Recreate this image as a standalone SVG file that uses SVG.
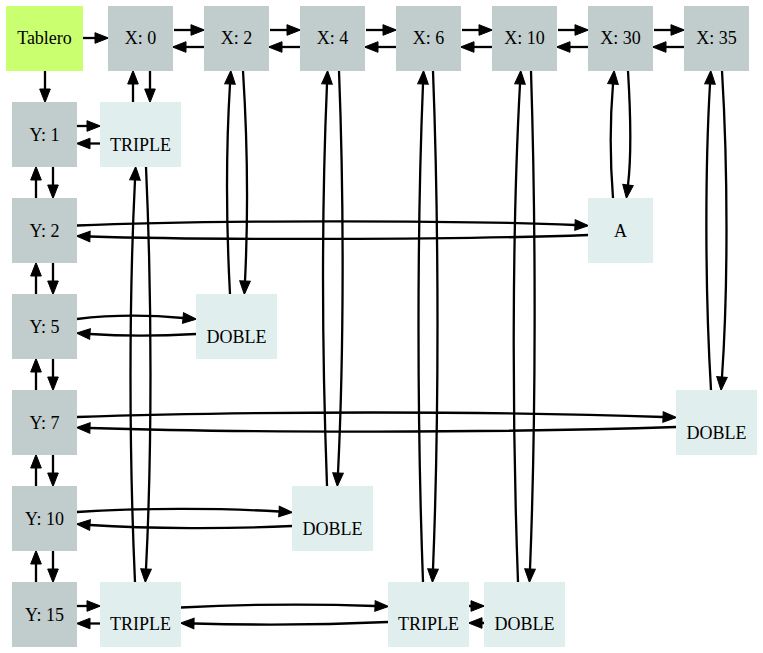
<svg xmlns="http://www.w3.org/2000/svg" width="763" height="653" viewBox="0 0 763 653">
<style>
.g{fill:#c1cdcd}
.l{fill:#e0eeee}
.t{fill:#caff70}
text{font-family:"Liberation Serif","Times New Roman",serif;font-size:18px;fill:#000;text-anchor:middle}
.e path{fill:none;stroke:#000;stroke-width:2.3;marker-end:url(#ah)}
</style>
<defs>
<marker id="ah" markerUnits="userSpaceOnUse" markerWidth="16" markerHeight="12" refX="0" refY="5.3" orient="auto" overflow="visible">
<path d="M0,0 L13.5,5.3 L0,10.6 z" fill="#000" stroke="#000" stroke-width="1"/>
</marker>
</defs>
<rect width="763" height="653" fill="#fff"/>
<g class="e" id="edges">
<path d="M83,38 L95,38"/>
<path d="M45,71 L45,89"/>
<path d="M174,30 L191,30"/>
<path d="M204,47 L186,47"/>
<path d="M270,30 L287,30"/>
<path d="M300,47 L282,47"/>
<path d="M366,30 L383,30"/>
<path d="M396,47 L378,47"/>
<path d="M462,30 L479,30"/>
<path d="M492,47 L474,47"/>
<path d="M558,30 L575,30"/>
<path d="M588,47 L570,47"/>
<path d="M654,30 L671,30"/>
<path d="M684,47 L666,47"/>
<path d="M150,71 L150,89"/>
<path d="M133,102 L133,84"/>
<path d="M77,126 L87,126"/>
<path d="M100,143.5 L90,143.5"/>
<path d="M53,167 L53,185"/>
<path d="M36,198 L36,180"/>
<path d="M53,263 L53,281"/>
<path d="M36,294 L36,276"/>
<path d="M53,359 L53,377"/>
<path d="M36,390 L36,372"/>
<path d="M53,455 L53,473"/>
<path d="M36,486 L36,468"/>
<path d="M53,551 L53,569"/>
<path d="M36,582 L36,564"/>
<path d="M77,606 L87,606"/>
<path d="M100,623.5 L90,623.5"/>
<path d="M135,582 C129,450 129,300 135,180"/>
<path d="M146,167 C152,300 152,450 146,569"/>
<path d="M230,294 C226,220 226,150 230,84"/>
<path d="M243,71 C248,150 248,220 245,281"/>
<path d="M327,486 C322,350 322,200 327,84"/>
<path d="M339,71 C344,200 344,350 338,473"/>
<path d="M423,582 C417,420 417,230 423,84"/>
<path d="M433,71 C439,230 439,420 433,569"/>
<path d="M518,582 C512,420 512,230 520,84"/>
<path d="M531,71 C536,230 536,420 530,569"/>
<path d="M613,198 C610,160 610,120 613,84"/>
<path d="M628,71 C631,120 631,160 628,185"/>
<path d="M711,390 C705,290 705,170 710,84"/>
<path d="M722,71 C728,170 728,290 722,377"/>
<path d="M77,225.5 C200,220 460,220 575,225"/>
<path d="M588,235 C460,240 200,240 90,236.5"/>
<path d="M77,319 C110,315 150,315 183,318"/>
<path d="M196,334 C160,336 120,336 90,334"/>
<path d="M77,417 C250,411 500,411 663,417"/>
<path d="M676,427 C500,433 250,433 90,428"/>
<path d="M77,512 C140,508 220,508 279,511.5"/>
<path d="M292,526 C230,529 150,529 90,525"/>
<path d="M181,607.5 C250,604 320,604 375,606"/>
<path d="M388,622 C320,625 250,625 194,623.5"/>
<path d="M469,606 L471,606"/>
<path d="M484,623 L482,623"/>
</g>
<g id="tablero"><rect class="t" x="6" y="6" width="77" height="65"/><text x="44.5" y="44">Tablero</text></g>
<g id="x0"><rect class="g" x="108" y="6" width="65" height="65"/><text x="140.5" y="44">X: 0</text></g>
<g id="x2"><rect class="g" x="204" y="6" width="65" height="65"/><text x="236.5" y="44">X: 2</text></g>
<g id="x4"><rect class="g" x="300" y="6" width="65" height="65"/><text x="332.5" y="44">X: 4</text></g>
<g id="x6"><rect class="g" x="396" y="6" width="65" height="65"/><text x="428.5" y="44">X: 6</text></g>
<g id="x10"><rect class="g" x="492" y="6" width="65" height="65"/><text x="524.5" y="44">X: 10</text></g>
<g id="x30"><rect class="g" x="588" y="6" width="65" height="65"/><text x="620.5" y="44">X: 30</text></g>
<g id="x35"><rect class="g" x="684" y="6" width="65" height="65"/><text x="716.5" y="44">X: 35</text></g>
<g id="y1"><rect class="g" x="12" y="102" width="65" height="65"/><text x="44.5" y="141">Y: 1</text></g>
<g id="y2"><rect class="g" x="12" y="198" width="65" height="65"/><text x="44.5" y="237">Y: 2</text></g>
<g id="y5"><rect class="g" x="12" y="294" width="65" height="65"/><text x="44.5" y="333">Y: 5</text></g>
<g id="y7"><rect class="g" x="12" y="390" width="65" height="65"/><text x="44.5" y="429">Y: 7</text></g>
<g id="y10"><rect class="g" x="12" y="486" width="65" height="65"/><text x="44.5" y="525">Y: 10</text></g>
<g id="y15"><rect class="g" x="12" y="582" width="65" height="65"/><text x="44.5" y="621">Y: 15</text></g>
<g id="triple1"><rect class="l" x="100" y="102" width="81" height="65"/><text x="140.5" y="150.5">TRIPLE</text></g>
<g id="a"><rect class="l" x="588" y="198" width="65" height="65"/><text x="620.5" y="236.5">A</text></g>
<g id="doble1"><rect class="l" x="196" y="294" width="81" height="65"/><text x="236.5" y="342.5">DOBLE</text></g>
<g id="doble2"><rect class="l" x="676" y="390" width="81" height="65"/><text x="716.5" y="438.5">DOBLE</text></g>
<g id="doble3"><rect class="l" x="292" y="486" width="81" height="65"/><text x="332.5" y="534.5">DOBLE</text></g>
<g id="triple2"><rect class="l" x="100" y="582" width="81" height="65"/><text x="140.5" y="630">TRIPLE</text></g>
<g id="triple3"><rect class="l" x="388" y="582" width="81" height="65"/><text x="428.5" y="630">TRIPLE</text></g>
<g id="doble4"><rect class="l" x="484" y="582" width="81" height="65"/><text x="524.5" y="630">DOBLE</text></g>
</svg>
